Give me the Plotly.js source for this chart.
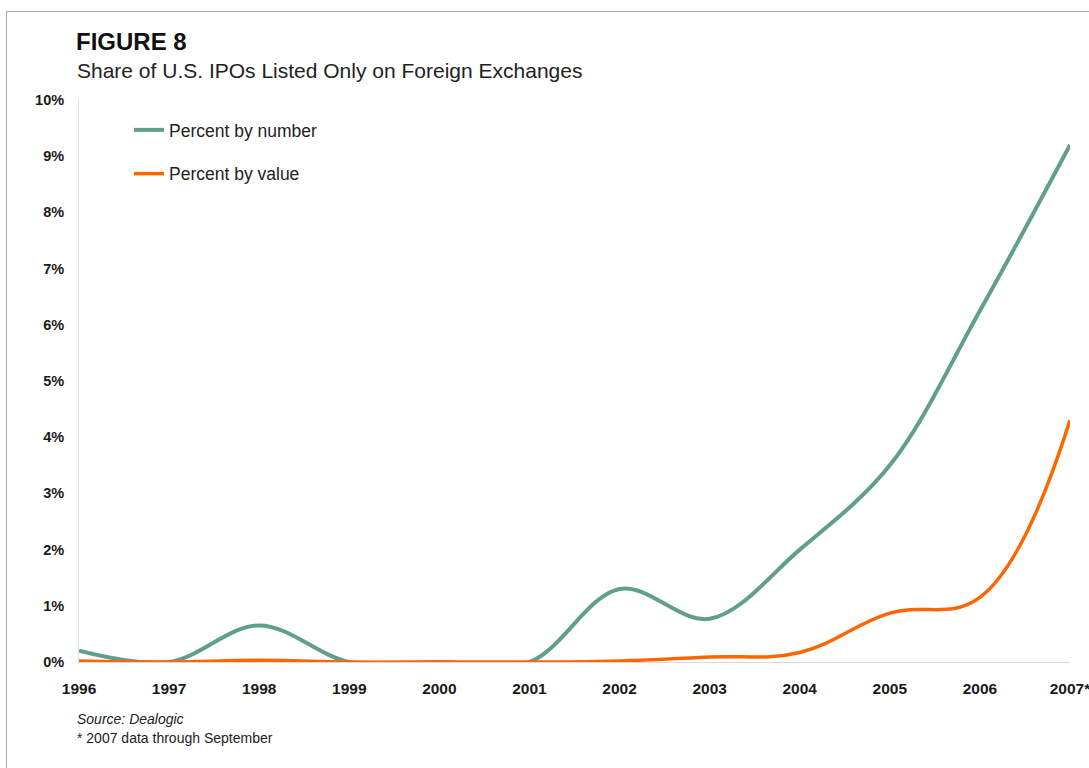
<!DOCTYPE html>
<html>
<head>
<meta charset="utf-8">
<script src="https://cdn.plot.ly/plotly-3.0.1.min.js"></script>
<style>
  html, body { margin: 0; padding: 0; background: #fff; overflow: hidden; }
  #wrap { position: relative; width: 1089px; height: 768px; }
  #chart { position: absolute; left: 0; top: 0; width: 1089px; height: 768px; }
  #frame { position: absolute; left: 6px; top: 11px; width: 1100px; height: 800px;
           border-top: 1px solid #a6a6a6; border-left: 1px solid #a6a6a6; pointer-events: none; }
</style>
</head>
<body>
<div id="wrap">
  <div id="chart"></div>
  <div id="frame"></div>
</div>
<script>
// Categories (x-axis tick labels)
const years = ['1996','1997','1998','1999','2000','2001','2002','2003','2004','2005','2006','2007*'];
// Series values, in percent
const percentByNumber = [0.2, 0, 0.65, 0, 0, 0, 1.3, 0.77, 2.0, 3.5, 6.25, 9.2];
const percentByValue  = [0.02, 0, 0.03, 0, 0, 0, 0.02, 0.09, 0.17, 0.87, 1.15, 4.3];
const seriesNames = ['Percent by number', 'Percent by value'];

const FONT = 'Liberation Sans, Arial, sans-serif';
const L = 79, R = 19, T = 100, B = 106;
const W = 1089, H = 768;
const pw = W - L - R, ph = H - T - B;
const px = x => (x - L) / pw;
const py = y => (H - B - y) / ph;

const traces = [
  { x: years, y: percentByNumber, name: seriesNames[0], type: 'scatter', mode: 'lines',
    legendgroup: 'a', line: { color: '#609f8c', width: 4, shape: 'spline', smoothing: 1 } },
  { x: years, y: percentByValue, name: seriesNames[1], type: 'scatter', mode: 'lines',
    legendgroup: 'b', line: { color: '#ff6600', width: 3.5, shape: 'spline', smoothing: 1.15 } }
];

const layout = {
  width: W, height: H,
  margin: { l: L, r: R, t: T, b: B },
  paper_bgcolor: '#ffffff', plot_bgcolor: '#ffffff',
  font: { family: FONT, color: '#1a1a1a' },
  title: { text: '<b>FIGURE 8</b>', xref: 'container', yref: 'container',
           x: 76 / W, xanchor: 'left', y: 1 - 42 / H, yanchor: 'middle',
           font: { family: FONT, size: 24, color: '#111' } },
  showlegend: true,
  legend: { x: px(129), y: py(112), xanchor: 'left', yanchor: 'top',
            traceorder: 'grouped', tracegroupgap: 18,
            bgcolor: 'rgba(0,0,0,0)', font: { family: FONT, size: 17.5, color: '#222' } },
  xaxis: { type: 'category', range: [0, 11], showgrid: false, zeroline: false,
           showline: true, linecolor: '#d9d9d9', linewidth: 1, ticks: '',
           ticklabelstandoff: 12,
           tickfont: { family: FONT, size: 15.5, color: '#1a1a1a', weight: 'bold' } },
  yaxis: { range: [0, 10], dtick: 1, ticksuffix: '%', showgrid: false, zeroline: false,
           showline: true, linecolor: '#e0e0e0', linewidth: 1, ticks: '',
           ticklabelstandoff: 11,
           tickfont: { family: FONT, size: 14.5, color: '#1a1a1a', weight: 'bold' } },
  annotations: [
    { text: 'Share of U.S. IPOs Listed Only on Foreign Exchanges', xref: 'paper', yref: 'paper',
      x: px(75), y: py(70), xanchor: 'left', yanchor: 'middle', showarrow: false,
      font: { family: FONT, size: 21, color: '#222' } },
    { text: '<i>Source: Dealogic</i>', xref: 'paper', yref: 'paper',
      x: px(75), y: py(719), xanchor: 'left', yanchor: 'middle', showarrow: false,
      font: { family: FONT, size: 14, color: '#222' } },
    { text: '* 2007 data through September', xref: 'paper', yref: 'paper',
      x: px(75), y: py(738), xanchor: 'left', yanchor: 'middle', showarrow: false,
      font: { family: FONT, size: 14, color: '#222' } }
  ]
};

Plotly.newPlot('chart', traces, layout, { staticPlot: true, displayModeBar: false });
</script>
</body>
</html>
